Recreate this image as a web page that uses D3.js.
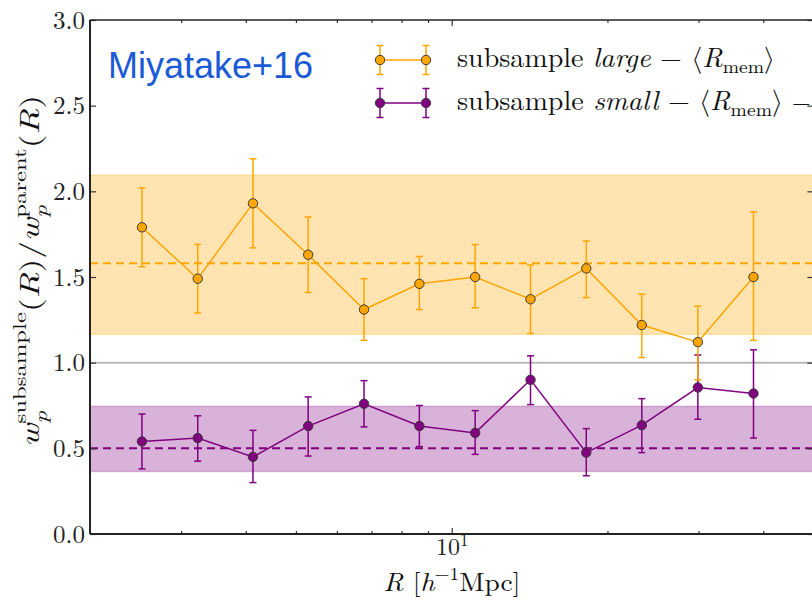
<!DOCTYPE html>
<html>
<head>
<meta charset="utf-8">
<script src="https://cdn.jsdelivr.net/npm/d3@7"></script>
<style>
  html, body { margin: 0; padding: 0; background: #fff; }
  svg text { white-space: pre; }
</style>
</head>
<body>
<svg id="chart" width="812" height="600"></svg>
<script>
// Projected radius bins (h^-1 Mpc)
const rBins = [2.52, 3.23, 4.13, 5.28, 6.77, 8.66, 11.1, 14.2, 18.2, 23.3, 29.9, 38.3];

// Ratio w_p^subsample / w_p^parent for the "large" subsample
const largeRatio = [1.79, 1.49, 1.93, 1.63, 1.31, 1.46, 1.50, 1.37, 1.55, 1.22, 1.12, 1.50];
const largeHi    = [2.02, 1.69, 2.19, 1.85, 1.49, 1.62, 1.69, 1.57, 1.71, 1.40, 1.33, 1.88];
const largeLo    = [1.56, 1.29, 1.67, 1.41, 1.13, 1.31, 1.32, 1.17, 1.38, 1.03, 0.90, 1.13];

// Ratio for the "small" subsample
const smallRatio = [0.54, 0.56, 0.45, 0.63, 0.76, 0.63, 0.59, 0.90, 0.475, 0.635, 0.855, 0.82];
const smallHi    = [0.70, 0.69, 0.605, 0.80, 0.895, 0.75, 0.72, 1.04, 0.615, 0.79, 1.045, 1.075];
const smallLo    = [0.38, 0.425, 0.30, 0.455, 0.625, 0.51, 0.465, 0.755, 0.34, 0.475, 0.67, 0.56];

// Reference level (mean) and shaded range for each subsample
const largeMean = 1.58, largeBand = [1.165, 2.095];
const smallMean = 0.50, smallBand = [0.365, 0.745];
const unityLevel = 1.0;

// Axis settings
const xDomain = [2, 50];
const yDomain = [0, 3];
const yTickValues = [0, 0.5, 1.0, 1.5, 2.0, 2.5, 3.0];
const xMajorTicks = [10];
const xMinorTicks = [3, 4, 5, 6, 7, 8, 9, 20, 30, 40];

const ORANGE = "#FFA500";
const PURPLE = "#800080";
const SERIF = "'Latin Modern Roman', 'CMU Serif', 'Liberation Serif', serif";
const ANGLE_FONT = "'Latin Modern Math', 'Latin Modern Roman', 'DejaVu Serif', serif";

const svg = d3.select("#chart");
const L = 90, T = 20, B = 534, R = 813.4;

const x = d3.scaleLog().domain(xDomain).range([L, R]);
const y = d3.scaleLinear().domain(yDomain).range([B, T]);

svg.append("defs").append("clipPath").attr("id", "plotclip")
  .append("rect").attr("x", L).attr("y", T).attr("width", R - L).attr("height", B - T);

const plot = svg.append("g").attr("clip-path", "url(#plotclip)");

// Shaded ranges
[[largeBand, ORANGE], [smallBand, PURPLE]].forEach(([band, col]) => {
  plot.append("rect")
    .attr("x", x(xDomain[0])).attr("width", x(xDomain[1]) - x(xDomain[0]))
    .attr("y", y(band[1])).attr("height", y(band[0]) - y(band[1]))
    .attr("fill", col).attr("fill-opacity", 0.3)
    .attr("stroke", col).attr("stroke-opacity", 0.25).attr("stroke-width", 1.5);
});

// Unity line
plot.append("line")
  .attr("x1", x(xDomain[0])).attr("x2", x(xDomain[1]))
  .attr("y1", y(unityLevel)).attr("y2", y(unityLevel))
  .attr("stroke", "#b8b8b8").attr("stroke-width", 2);

// Dashed mean levels
[[largeMean, ORANGE], [smallMean, PURPLE]].forEach(([m, col]) => {
  plot.append("line")
    .attr("x1", x(xDomain[0])).attr("x2", x(xDomain[1]))
    .attr("y1", y(m)).attr("y2", y(m))
    .attr("stroke", col).attr("stroke-width", 2).attr("stroke-dasharray", "8,5");
});

// Series with error bars
function drawSeries(vals, lo, hi, col) {
  const pts = rBins.map((r, i) => ({ r, v: vals[i], lo: lo[i], hi: hi[i] }));
  const g = plot.append("g");
  const eb = g.append("g").attr("stroke", col).attr("stroke-width", 1.5);
  pts.forEach(p => {
    const cx = x(p.r);
    eb.append("line").attr("x1", cx).attr("x2", cx).attr("y1", y(p.lo)).attr("y2", y(p.hi));
    eb.append("line").attr("x1", cx - 3.5).attr("x2", cx + 3.5).attr("y1", y(p.lo)).attr("y2", y(p.lo));
    eb.append("line").attr("x1", cx - 3.5).attr("x2", cx + 3.5).attr("y1", y(p.hi)).attr("y2", y(p.hi));
  });
  g.append("path").datum(pts)
    .attr("d", d3.line().x(d => x(d.r)).y(d => y(d.v)))
    .attr("fill", "none").attr("stroke", col).attr("stroke-width", 1.5);
  g.selectAll("circle").data(pts).join("circle")
    .attr("cx", d => x(d.r)).attr("cy", d => y(d.v)).attr("r", 4.7)
    .attr("fill", col).attr("stroke", "#3a3a3a").attr("stroke-width", 1);
}
drawSeries(smallRatio, smallLo, smallHi, PURPLE);
drawSeries(largeRatio, largeLo, largeHi, ORANGE);

// Axes: inward ticks on all four sides
function styleAxis(g) {
  g.select(".domain").remove();
  g.selectAll("line").attr("stroke", "#333").attr("stroke-width", 1.2);
}
svg.append("g").attr("transform", `translate(${L},0)`)
  .call(d3.axisLeft(y).tickValues(yTickValues).tickSizeInner(-6).tickSizeOuter(0)
    .tickPadding(5).tickFormat(d3.format(".1f")))
  .call(styleAxis)
  .selectAll("text").attr("font-family", SERIF).attr("font-size", 25).attr("fill", "#222");
svg.append("g").attr("transform", `translate(${R},0)`)
  .call(d3.axisRight(y).tickValues(yTickValues).tickSizeInner(-6).tickSizeOuter(0).tickFormat(""))
  .call(styleAxis);

[["bottom", B], ["top", T]].forEach(([side, pos]) => {
  const mk = side === "bottom" ? d3.axisBottom : d3.axisTop;
  svg.append("g").attr("transform", `translate(0,${pos})`)
    .call(mk(x).tickValues(xMinorTicks).tickSizeInner(-3).tickSizeOuter(0).tickFormat(""))
    .call(styleAxis);
  const major = svg.append("g").attr("transform", `translate(0,${pos})`)
    .call(mk(x).tickValues(xMajorTicks).tickSizeInner(-6).tickSizeOuter(0).tickFormat(""))
    .call(styleAxis);
  if (side === "bottom") {
    major.selectAll(".tick").each(function (d) {
      const t = d3.select(this).select("text").text(null)
        .attr("y", 21).attr("dy", null)
        .attr("font-family", SERIF).attr("font-size", 24).attr("fill", "#222")
        .attr("text-anchor", "middle");
      t.append("tspan").text("10");
      t.append("tspan").attr("font-size", 17).attr("dy", -9).text(String(Math.round(Math.log10(d))));
    });
  }
});

// Spines
const spines = svg.append("g").attr("stroke", "#222").attr("fill", "none");
spines.append("line").attr("x1", L).attr("x2", L).attr("y1", T).attr("y2", B).attr("stroke-width", 2);
spines.append("line").attr("x1", L).attr("x2", R).attr("y1", B).attr("y2", B).attr("stroke-width", 2);
spines.append("line").attr("x1", L).attr("x2", R).attr("y1", T).attr("y2", T).attr("stroke-width", 1.6);
spines.append("line").attr("x1", R).attr("x2", R).attr("y1", T).attr("y2", B).attr("stroke-width", 1.6);

// Math-style text built from pieces: italic, sub/superscripts, stacked scripts
function richText(parent, parts, size, targetWidth) {
  const outer = parent.append("g");
  const g = outer.append("g");
  let cursor = 0, lastStart = 0;
  parts.forEach(p => {
    const s = size * (p.sc || 1);
    const start = p.stack ? lastStart : cursor;
    const t = g.append("text")
      .attr("x", start).attr("y", -(p.sh || 0) * size)
      .attr("font-family", p.fam || SERIF).attr("font-size", s)
      .attr("font-style", p.it ? "italic" : "normal")
      .attr("fill", "#111")
      .text(p.t);
    const w = t.node().getComputedTextLength();
    if (p.stack) cursor = Math.max(cursor, start + w);
    else { lastStart = start; cursor = start + w; }
  });
  const sx = targetWidth ? targetWidth / cursor : 1;
  g.attr("transform", `scale(${sx},1)`);
  return { outer, g, width: cursor * sx };
}

// Y-axis label
{
  const parts = [
    { t: "w", it: true },
    { t: "p", it: true, sc: 0.7, sh: -0.28 },
    { t: "subsample", sc: 0.7, sh: 0.48, stack: true },
    { t: "(" }, { t: "R", it: true }, { t: ")/" },
    { t: "w", it: true },
    { t: "p", it: true, sc: 0.7, sh: -0.28 },
    { t: "parent", sc: 0.7, sh: 0.48, stack: true },
    { t: "(" }, { t: "R", it: true }, { t: ")" }
  ];
  const holder = svg.append("g").attr("transform", "translate(39,271) rotate(-90)");
  const rt = richText(holder, parts, 27, 352);
  rt.outer.attr("transform", `translate(${-rt.width / 2},0)`);
}

// X-axis label
{
  const parts = [
    { t: "R", it: true }, { t: " [" }, { t: "h", it: true },
    { t: "−1", sc: 0.7, sh: 0.42 }, { t: "Mpc" }, { t: "]" }
  ];
  const holder = svg.append("g").attr("transform", "translate(452,591)");
  const rt = richText(holder, parts, 26, 137);
  rt.outer.attr("transform", `translate(${-rt.width / 2},0)`);
}

// Title tag
svg.append("text").attr("x", 108).attr("y", 78)
  .attr("font-family", "'Liberation Sans', Arial, sans-serif").attr("font-size", 36)
  .attr("fill", "#1a5ad6").text("Miyatake+16");

// Legend
const legendRows = [
  { col: ORANGE, name: "large", cy: 60, base: 67, width: 318 },
  { col: PURPLE, name: "small", cy: 103, base: 110, width: 326 }
];
legendRows.forEach(row => {
  const lg = svg.append("g");
  const xs = [380, 426];
  lg.append("line").attr("x1", xs[0]).attr("x2", xs[1]).attr("y1", row.cy).attr("y2", row.cy)
    .attr("stroke", row.col).attr("stroke-width", 1.5);
  xs.forEach(cx => {
    lg.append("line").attr("x1", cx).attr("x2", cx).attr("y1", row.cy - 14.5).attr("y2", row.cy + 14.5)
      .attr("stroke", row.col).attr("stroke-width", 1.5);
    [-14.5, 14.5].forEach(o => lg.append("line")
      .attr("x1", cx - 3.5).attr("x2", cx + 3.5).attr("y1", row.cy + o).attr("y2", row.cy + o)
      .attr("stroke", row.col).attr("stroke-width", 1.5));
    lg.append("circle").attr("cx", cx).attr("cy", row.cy).attr("r", 4.7)
      .attr("fill", row.col).attr("stroke", "#3a3a3a").attr("stroke-width", 1);
  });
  const holder = lg.append("g").attr("transform", `translate(457,${row.base})`);
  richText(holder, [
    { t: "subsample " }, { t: row.name, it: true }, { t: " − " },
    { t: "⟨", fam: ANGLE_FONT },
    { t: "R", it: true }, { t: "mem", sc: 0.7, sh: -0.22 },
    { t: "⟩", fam: ANGLE_FONT }
  ], 27, row.width);
});
// Start of a further legend entry running past the right edge
svg.append("text").attr("x", 792).attr("y", 111)
  .attr("font-family", SERIF).attr("font-size", 24).attr("fill", "#111").text("−");
</script>
</body>
</html>
